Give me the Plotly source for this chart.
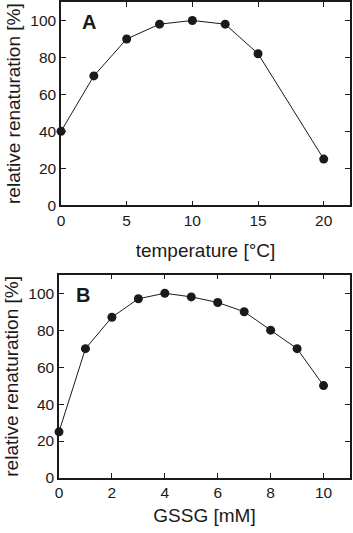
import plotly.graph_objects as go

# Panel A data
temp_c = [0, 2.5, 5, 7.5, 10, 12.5, 15, 20]
renat_a = [40, 70, 90, 98, 100, 98, 82, 25]

# Panel B data
gssg_mm = [0, 1, 2, 3, 4, 5, 6, 7, 8, 9, 10]
renat_b = [25, 70, 87, 97, 100, 98, 95, 90, 80, 70, 50]

xticks_a = [0, 5, 10, 15, 20]
xticks_b = [0, 2, 4, 6, 8, 10]
yticks = [0, 20, 40, 60, 80, 100]

FONT = "Arial, Liberation Sans, Helvetica, sans-serif"
INK = "#1a1a1a"

fig = go.Figure()
marker = dict(size=9, color=INK)
line = dict(color=INK, width=1)
fig.add_trace(go.Scatter(x=temp_c, y=renat_a, mode="lines+markers", marker=marker,
                         line=line, xaxis="x", yaxis="y", showlegend=False, cliponaxis=False,
                         hoverinfo="skip"))
fig.add_trace(go.Scatter(x=gssg_mm, y=renat_b, mode="lines+markers", marker=marker,
                         line=line, xaxis="x2", yaxis="y2", showlegend=False, cliponaxis=False,
                         hoverinfo="skip"))

axis_common = dict(showgrid=False, zeroline=False, showline=True, linecolor=INK, linewidth=1.5,
                   mirror="allticks", ticks="inside", ticklen=5, tickwidth=1.2, tickcolor=INK,
                   tickfont=dict(family=FONT, size=15.5, color=INK))
title_font = dict(family=FONT, size=19, color=INK)

fig.update_layout(
    width=353, height=533,
    margin=dict(l=59, r=3, t=0, b=55),
    paper_bgcolor="white", plot_bgcolor="white",
    xaxis=dict(axis_common, domain=[2/291, 1], range=[0, 22], tickvals=xticks_a,
               anchor="y", title=dict(text="temperature [°C]", font=title_font, standoff=16)),
    yaxis=dict(axis_common, domain=[0.573, 1], range=[0, 110], tickvals=yticks,
               anchor="x", title=dict(text="relative renaturation [%]", font=title_font, standoff=5)),
    xaxis2=dict(axis_common, domain=[0, 1], range=[0, 11], tickvals=xticks_b,
                anchor="y2", title=dict(text="GSSG [mM]", font=title_font, standoff=8)),
    yaxis2=dict(axis_common, domain=[0, 0.427], range=[0, 110], tickvals=yticks,
                anchor="x2", title=dict(text="relative renaturation [%]", font=title_font, standoff=5)),
    annotations=[
        dict(text="<b>A</b>", x=2.1, y=99, xref="x", yref="y", showarrow=False,
             font=dict(family=FONT, size=20, color=INK)),
        dict(text="<b>B</b>", x=0.9, y=99, xref="x2", yref="y2", showarrow=False,
             font=dict(family=FONT, size=20, color=INK)),
    ],
)

fig.write_html("out.html", config={"displayModeBar": False},
               post_script="document.body.style.margin='0';")
